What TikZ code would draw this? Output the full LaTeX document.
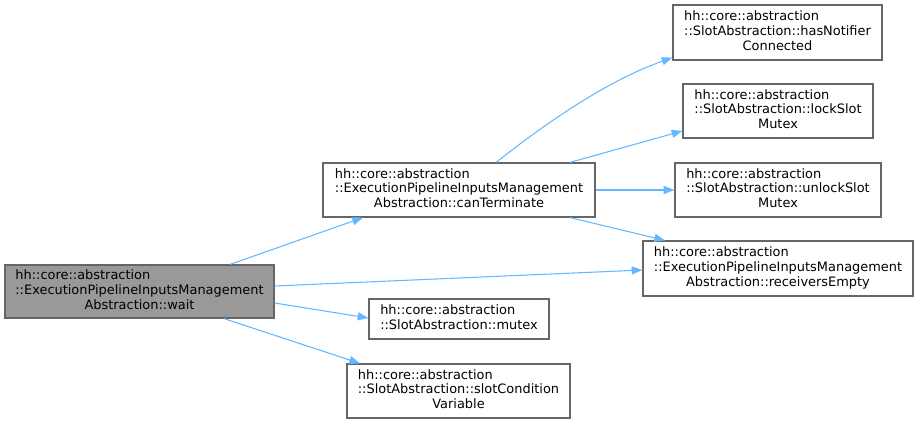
\documentclass[tikz,border=0pt]{standalone}
\usepackage{fontspec}
\setmainfont{DejaVu Sans}
\usepackage{xcolor}
\definecolor{edgec}{HTML}{63B8FF}
\definecolor{boxc}{HTML}{666666}
\definecolor{curc}{HTML}{999999}
\usepackage{tikz}
\usetikzlibrary{arrows.meta,calc}
\tikzset{
  >={Stealth[length=8pt,width=6pt,inset=0pt]},
  fn/.style={draw=boxc,line width=0.9pt,fill=white,inner sep=0pt,font=\fontsize{9.7}{11}\selectfont},
  curfn/.style={fn,fill=curc},
  call/.style={->,draw=edgec,line width=0.8pt},
}
% doxygen style label: left lines, last line centred
\newcommand{\lbl}[3]{\begin{tabular}{@{}l@{}}#1\\#2\\\multicolumn{1}{@{}c@{}}{#3}\end{tabular}}

\begin{document}
\begin{tikzpicture}[x=0.75pt,y=-0.75pt]
  \useasboundingbox (0,0) rectangle (919,424);
  \node[curfn,minimum width=201.75pt,minimum height=39.75pt] (wait) at (139.5,291.5)
    {\lbl{hh::core::abstraction}{::ExecutionPipelineInputsManagement}{Abstraction::wait}};
  \node[fn,minimum width=204pt,minimum height=40.5pt] (canT) at (459,190)
    {\lbl{hh::core::abstraction}{::ExecutionPipelineInputsManagement}{Abstraction::canTerminate}};
  \node[fn,minimum width=156.75pt,minimum height=41.25pt] (hasN) at (777.5,32.5)
    {\lbl{hh::core::abstraction}{::SlotAbstraction::hasNotifier}{Connected}};
  \node[fn,minimum width=142.5pt,minimum height=40.5pt] (lock) at (778,111)
    {\lbl{hh::core::abstraction}{::SlotAbstraction::lockSlot}{Mutex}};
  \node[fn,minimum width=154.5pt,minimum height=40.5pt] (unlock) at (778,190)
    {\lbl{hh::core::abstraction}{::SlotAbstraction::unlockSlot}{Mutex}};
  \node[fn,minimum width=202.5pt,minimum height=41.25pt] (recv) at (778,268.5)
    {\lbl{hh::core::abstraction}{::ExecutionPipelineInputsManagement}{Abstraction::receiversEmpty}};
  \node[fn,minimum width=135pt,minimum height=30pt] (mutex) at (459,319)
    {\begin{tabular}{@{}l@{}}hh::core::abstraction\\::SlotAbstraction::mutex\end{tabular}};
  \node[fn,minimum width=167.25pt,minimum height=40.5pt] (cond) at (458.5,391)
    {\lbl{hh::core::abstraction}{::SlotAbstraction::slotCondition}{Variable}};
  % calls from wait
  \draw[call] ($(wait.north)+(90.5,0)$) -- ($(canT.south)+(-96,0)$);
  \draw[call] ($(wait.east)+(0,-5.5)$) -- ($(recv.west)+(0,1.5)$);
  \draw[call] ($(wait.east)+(0,11.5)$) -- ($(mutex.west)+(0,-1)$);
  \draw[call] ($(wait.south)+(84.5,0)$) -- ($(cond.north)+(-98.5,0)$);
  % calls from canTerminate
  \draw[call] ($(canT.north)+(37,0)$) .. controls (560,112) and (615,78) .. ($(hasN.south west)+(0,-3)$);
  \draw[call] ($(canT.north)+(111,0)$) -- ($(lock.west)+(0,20)$);
  \draw[call] (canT.east) -- (unlock.west);
  \draw[call] ($(canT.south)+(111,0)$) -- ($(recv.north)+(-113,0)$);
\end{tikzpicture}
\end{document}
